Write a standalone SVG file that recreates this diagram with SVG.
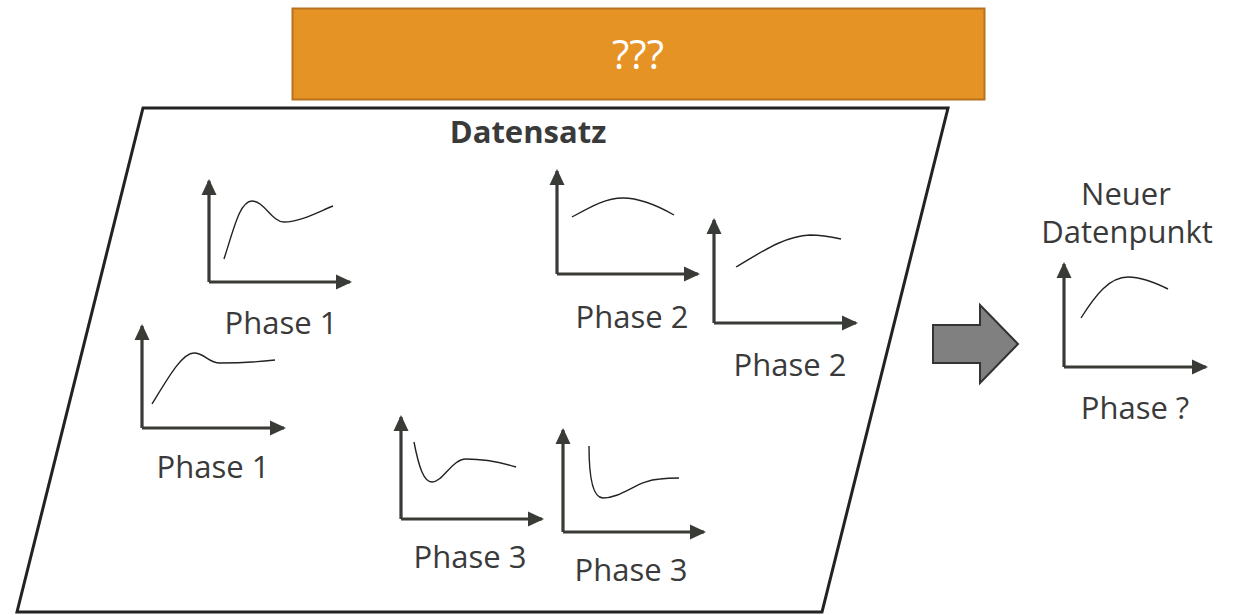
<svg xmlns="http://www.w3.org/2000/svg" width="1247" height="615" viewBox="0 0 1247 615">
<style>
.ax{fill:none;stroke:#393b36;stroke-width:3.2;}
.cv{fill:none;stroke:#222;stroke-width:1.4;}
.lbl{font-family:"Open Sans","Noto Sans",sans-serif;font-size:31px;fill:#3a3a3a;text-anchor:middle;}
</style>
<defs>
<marker id="ah" markerUnits="userSpaceOnUse" markerWidth="16" markerHeight="16" viewBox="0 0 16 16" refX="14" refY="8" orient="auto">
<path d="M0,0.5 L16,8 L0,15.5 Z" fill="#393b36"/>
</marker>
</defs>
<rect width="1247" height="615" fill="#ffffff"/>
<g id="title">
<rect x="292.5" y="8.5" width="692" height="91" fill="#e69326" stroke="#b8711e" stroke-width="2"/>
<text x="638" y="69" font-family="'Open Sans','Noto Sans',sans-serif" font-size="40" fill="#ffffff" text-anchor="middle">???</text>
</g>
<g id="dataset">
<polygon points="143,108 948,108 822,612 17,612" fill="#ffffff" stroke="#222" stroke-width="3"/>
<text x="528" y="143" font-family="'Open Sans','Noto Sans',sans-serif" font-size="31" font-weight="bold" fill="#3a3a3a" text-anchor="middle">Datensatz</text>
</g>
<g id="chart-p1a">
<path class="ax" d="M209,282 V181" marker-end="url(#ah)"/>
<path class="ax" d="M209,282 H350" marker-end="url(#ah)"/>
<path class="cv" d="M224,259 C234,228 240,201 252,201 C264,201 272,222 284,222 C300,222 318,212 333,206"/>
<text class="lbl" x="281" y="334">Phase 1</text>
</g>
<g id="chart-p1b">
<path class="ax" d="M142,428 V326" marker-end="url(#ah)"/>
<path class="ax" d="M142,428 H284" marker-end="url(#ah)"/>
<path class="cv" d="M152,404 C168,378 182,353 194,353 C205,353 208,363 220,363 C240,363 258,362 275,360"/>
<text class="lbl" x="213" y="478">Phase 1</text>
</g>
<g id="chart-p2a">
<path class="ax" d="M557,274 V171" marker-end="url(#ah)"/>
<path class="ax" d="M557,274 H698" marker-end="url(#ah)"/>
<path class="cv" d="M572,217 C592,206 606,198 623,198 C642,198 660,207 674,215"/>
<text class="lbl" x="632" y="328">Phase 2</text>
</g>
<g id="chart-p2b">
<path class="ax" d="M714,323 V220" marker-end="url(#ah)"/>
<path class="ax" d="M714,323 H856" marker-end="url(#ah)"/>
<path class="cv" d="M736,267 C760,253 784,236 810,235 C822,235 832,237 841,239"/>
<text class="lbl" x="790" y="376">Phase 2</text>
</g>
<g id="chart-p3a">
<path class="ax" d="M401,519 V417" marker-end="url(#ah)"/>
<path class="ax" d="M401,519 H542" marker-end="url(#ah)"/>
<path class="cv" d="M414,442 C419,468 424,482 432,482 C443,482 452,459 466,459 C484,459 500,462 516,467"/>
<text class="lbl" x="470" y="568">Phase 3</text>
</g>
<g id="chart-p3b">
<path class="ax" d="M563,532 V430" marker-end="url(#ah)"/>
<path class="ax" d="M563,532 H704" marker-end="url(#ah)"/>
<path class="cv" d="M589,446 C589,480 594,498 603,498 C622,498 638,480 660,479 C668,478 674,478 679,478"/>
<text class="lbl" x="631" y="581">Phase 3</text>
</g>
<g id="big-arrow">
<polygon points="933,325 980,325 980,305 1018,344 980,383 980,363 933,363" fill="#808080" stroke="#333" stroke-width="2"/>
</g>
<g id="chart-new">
<text class="lbl" x="1126" y="205">Neuer</text>
<text class="lbl" x="1127" y="243">Datenpunkt</text>
<path class="ax" d="M1064,367 V264" marker-end="url(#ah)"/>
<path class="ax" d="M1064,367 H1206" marker-end="url(#ah)"/>
<path class="cv" d="M1081,318 C1096,294 1110,277 1128,277 C1142,277 1156,283 1168,289"/>
<text class="lbl" x="1135" y="419">Phase ?</text>
</g>
<g id="connectors"></g>
</svg>
